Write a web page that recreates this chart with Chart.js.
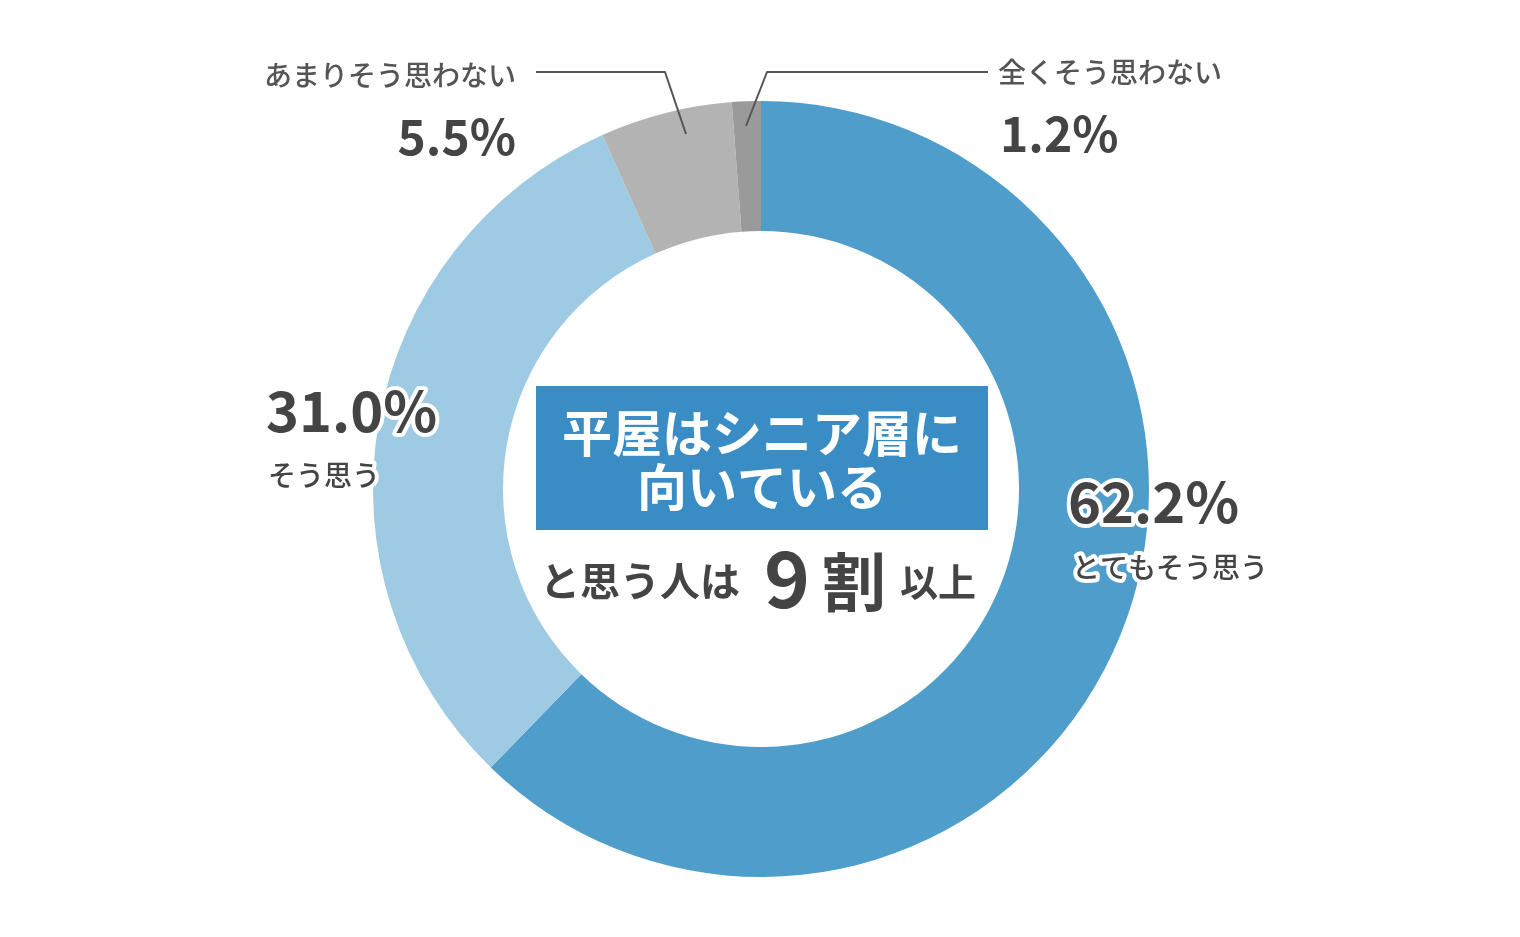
<!DOCTYPE html>
<html><head><meta charset="utf-8">
<script src="https://cdn.jsdelivr.net/npm/chart.js@4"></script>
<style>html,body{margin:0;background:#fff}#w{width:1520px;height:937px}</style>
</head><body><div id="w"><canvas id="c"></canvas></div>
<script>
const categories = ["とてもそう思う","そう思う","あまりそう思わない","全くそう思わない"];
const values = [62.2, 31.0, 5.5, 1.2];
const colors = ["#4f9dcb","#9ecae3","#b3b3b3","#9a9a9a"];

const F = '"Noto Sans CJK JP","Noto Sans",sans-serif';
function glowText(ctx, t, x, y, font, color, align) {
  ctx.font = font; ctx.textAlign = align; ctx.textBaseline = 'alphabetic';
  ctx.lineJoin = 'round'; ctx.strokeStyle = '#fff'; ctx.lineWidth = 8;
  ctx.strokeText(t, x, y); ctx.fillStyle = color; ctx.fillText(t, x, y);
}
const labelPlugin = {
  id: 'labels',
  afterDraw(chart) {
    const ctx = chart.ctx; ctx.save();
    const big = 'bold 56px ' + F, small = '500 28px ' + F, dark = '#444';
    const pct = v => v.toFixed(1) + '%';
    glowText(ctx, pct(values[0]), 1068, 523, big, dark, 'left');
    glowText(ctx, categories[0], 1072, 578, small, dark, 'left');
    glowText(ctx, pct(values[1]), 266, 432, big, dark, 'left');
    glowText(ctx, categories[1], 268, 486, small, dark, 'left');
    glowText(ctx, categories[2], 516, 86, small, '#555', 'right');
    glowText(ctx, pct(values[2]), 516, 155, 'bold 48px ' + F, dark, 'right');
    glowText(ctx, categories[3], 998, 83, small, '#555', 'left');
    glowText(ctx, pct(values[3]), 1000, 152, 'bold 48px ' + F, dark, 'left');
    ctx.strokeStyle = '#555'; ctx.lineWidth = 2;
    ctx.beginPath(); ctx.moveTo(536, 72); ctx.lineTo(665, 72); ctx.lineTo(686, 134); ctx.stroke();
    ctx.beginPath(); ctx.moveTo(988, 72); ctx.lineTo(767, 72); ctx.lineTo(746, 126); ctx.stroke();
    // center
    ctx.fillStyle = '#3a8dc4'; ctx.fillRect(536, 386, 452, 144);
    ctx.fillStyle = '#fff'; ctx.textAlign = 'center'; ctx.font = 'bold 50px ' + F;
    ctx.fillText('平屋はシニア層に', 762, 452);
    ctx.fillText('向いている', 762, 506);
    ctx.fillStyle = dark; ctx.textAlign = 'left';
    ctx.font = 'bold 40px ' + F; ctx.fillText('と思う人は', 540, 596);
    ctx.font = 'bold 78px ' + F; ctx.fillText('9', 764, 608);
    ctx.font = 'bold 64px ' + F; ctx.fillText('割', 822, 606);
    ctx.font = 'bold 38px ' + F; ctx.fillText('以上', 900, 596);
    ctx.restore();
  }
};
new Chart(document.getElementById('c'), {
  type: 'doughnut',
  data: { labels: categories, datasets: [{ data: values, backgroundColor: colors, borderWidth: 0 }] },
  options: {
    responsive: true, maintainAspectRatio: false, animation: false,
    cutout: '66.5%',
    layout: { padding: { top: 101, bottom: 60, left: 2, right: 0 } },
    plugins: { legend: { display: false }, tooltip: { enabled: false } }
  },
  plugins: [labelPlugin]
});
</script></body></html>
